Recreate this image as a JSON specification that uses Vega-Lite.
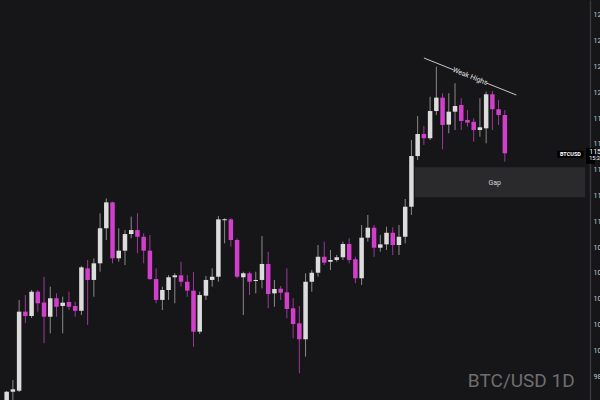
{
  "$schema": "https://vega.github.io/schema/vega-lite/v6.json",
  "width": 600,
  "height": 400,
  "padding": 0,
  "autosize": {"type": "none"},
  "background": "#161618",
  "config": {
    "view": {"stroke": null},
    "font": "Roboto",
    "axisY": {"labelOverlap": false, "labelSeparation": 0, "labelBound": false, "labelFlush": false}
  },
  "datasets": {
    "candles": [
      {"d":1,"o":95830,"h":96840,"l":95360,"c":96780},
      {"d":2,"o":96780,"h":97690,"l":96100,"c":96970},
      {"d":3,"o":96860,"h":103890,"l":96760,"c":102990},
      {"d":4,"o":102990,"h":104280,"l":102110,"c":102650},
      {"d":5,"o":102650,"h":104670,"l":102500,"c":104540},
      {"d":6,"o":104540,"h":104670,"l":102990,"c":103640},
      {"d":7,"o":103700,"h":105700,"l":100540,"c":102600},
      {"d":8,"o":102600,"h":104930,"l":101310,"c":104030},
      {"d":9,"o":104030,"h":104410,"l":102600,"c":103370},
      {"d":10,"o":103430,"h":104150,"l":101310,"c":103690},
      {"d":11,"o":103740,"h":104540,"l":103120,"c":103370},
      {"d":12,"o":103430,"h":103760,"l":102600,"c":103060},
      {"d":13,"o":103060,"h":106530,"l":102730,"c":106430},
      {"d":14,"o":106350,"h":107000,"l":101960,"c":105450},
      {"d":15,"o":105450,"h":107130,"l":104150,"c":106740},
      {"d":16,"o":106740,"h":110620,"l":106090,"c":109460},
      {"d":17,"o":109460,"h":111780,"l":108550,"c":111470},
      {"d":18,"o":111470,"h":111520,"l":106740,"c":107130},
      {"d":19,"o":107130,"h":109460,"l":106870,"c":107720},
      {"d":20,"o":107720,"h":109320,"l":106610,"c":109010},
      {"d":21,"o":109010,"h":110360,"l":108680,"c":109320},
      {"d":22,"o":109320,"h":110620,"l":107520,"c":108800},
      {"d":23,"o":108800,"h":109070,"l":106740,"c":107720},
      {"d":24,"o":107720,"h":108940,"l":105450,"c":105520},
      {"d":25,"o":105520,"h":106350,"l":103640,"c":103900},
      {"d":26,"o":103900,"h":104930,"l":103120,"c":104670},
      {"d":27,"o":104670,"h":105830,"l":103900,"c":105660},
      {"d":28,"o":105660,"h":105970,"l":103640,"c":105810},
      {"d":29,"o":105810,"h":106870,"l":104930,"c":105310},
      {"d":30,"o":105310,"h":105830,"l":104150,"c":104620},
      {"d":31,"o":104620,"h":106070,"l":100270,"c":101440},
      {"d":32,"o":101440,"h":104540,"l":101260,"c":104280},
      {"d":33,"o":104230,"h":105760,"l":103900,"c":105450},
      {"d":34,"o":105450,"h":106350,"l":104930,"c":105700},
      {"d":35,"o":105700,"h":110410,"l":105310,"c":110150},
      {"d":36,"o":110080,"h":110230,"l":108290,"c":110160},
      {"d":37,"o":110150,"h":110230,"l":108030,"c":108550},
      {"d":38,"o":108550,"h":108680,"l":105580,"c":105700},
      {"d":39,"o":105660,"h":106090,"l":102730,"c":105970},
      {"d":40,"o":105970,"h":106090,"l":104280,"c":105310},
      {"d":41,"o":105370,"h":106090,"l":104410,"c":105450},
      {"d":42,"o":105450,"h":108860,"l":104800,"c":106690},
      {"d":43,"o":106690,"h":107640,"l":103250,"c":104360},
      {"d":44,"o":104410,"h":105450,"l":103370,"c":104750},
      {"d":45,"o":104770,"h":104980,"l":103900,"c":104460},
      {"d":46,"o":104490,"h":106350,"l":102480,"c":103200},
      {"d":47,"o":103250,"h":104030,"l":100920,"c":102030},
      {"d":48,"o":102090,"h":103430,"l":98210,"c":100850},
      {"d":49,"o":100850,"h":105970,"l":99500,"c":105310},
      {"d":50,"o":105310,"h":106220,"l":104540,"c":106010},
      {"d":51,"o":106010,"h":108160,"l":105700,"c":107250},
      {"d":52,"o":107250,"h":108420,"l":106610,"c":106790},
      {"d":53,"o":106860,"h":107770,"l":106220,"c":107000},
      {"d":54,"o":107000,"h":107390,"l":106870,"c":107210},
      {"d":55,"o":107210,"h":108420,"l":107000,"c":108240},
      {"d":56,"o":108240,"h":108680,"l":106740,"c":107000},
      {"d":57,"o":107050,"h":107250,"l":105190,"c":105580},
      {"d":58,"o":105580,"h":109710,"l":105060,"c":108730},
      {"d":59,"o":108730,"h":110490,"l":108420,"c":109500},
      {"d":60,"o":109500,"h":109710,"l":107250,"c":107950},
      {"d":61,"o":107950,"h":108940,"l":107640,"c":108210},
      {"d":62,"o":108210,"h":109580,"l":107770,"c":109110},
      {"d":63,"o":109110,"h":109530,"l":107390,"c":108160},
      {"d":64,"o":108160,"h":109710,"l":107390,"c":108800},
      {"d":65,"o":108800,"h":111730,"l":108290,"c":111130},
      {"d":66,"o":111130,"h":116300,"l":110490,"c":115060},
      {"d":67,"o":115060,"h":118170,"l":114750,"c":116770},
      {"d":68,"o":116770,"h":117390,"l":115920,"c":116440},
      {"d":69,"o":116440,"h":119660,"l":116300,"c":118550},
      {"d":70,"o":118550,"h":121990,"l":118240,"c":119590},
      {"d":71,"o":119590,"h":119930,"l":115580,"c":117470},
      {"d":72,"o":117500,"h":119930,"l":116820,"c":118500},
      {"d":73,"o":118500,"h":120700,"l":117080,"c":118940},
      {"d":74,"o":119020,"h":119540,"l":117080,"c":117780},
      {"d":75,"o":117860,"h":118630,"l":117340,"c":117650},
      {"d":76,"o":117720,"h":117990,"l":116170,"c":117080},
      {"d":77,"o":117080,"h":119540,"l":116560,"c":117290},
      {"d":78,"o":117210,"h":120050,"l":116050,"c":119850},
      {"d":79,"o":119850,"h":120100,"l":117080,"c":118690},
      {"d":80,"o":118690,"h":119410,"l":117470,"c":118240},
      {"d":81,"o":118240,"h":118630,"l":114620,"c":115270}
    ],
    "gap": [{"d":66.55,"d2":93.9,"p":111860,"p2":114190}],
    "gapText": [{"d":79.37,"p":112969,"t":"Gap"}],
    "trend": [
      {"seg":"a","d":68.0,"p":122664},
      {"seg":"a","d":72.74,"p":121749},
      {"seg":"b","d":78.11,"p":120710},
      {"seg":"b","d":82.85,"p":119794}
    ],
    "trendText": [{"d":75.42,"p":121229,"t":"Weak Highs"}],
    "watermark": [{"d":83.64,"p":97147,"t":"BTC/USD 1D"}],
    "symBox": [{"d":89.43,"d2":93.63,"p":114931,"p2":115474}],
    "symText": [{"d":91.53,"p":115203,"t":"BTCUSD"}],
    "priceBox": [{"d":94.05,"d2":95.48,"p":114450,"p2":115700}],
    "priceText": [
      {"d":94.55,"p":115400,"t":"115270.00","s":7},
      {"d":94.55,"p":114870,"t":"15:24:37","s":5.5}
    ]
  },
  "encoding": {
    "x": {"type": "quantitative", "scale": {"domain": [0.7316, 95.48], "nice": false, "zero": false}, "axis": null},
    "y": {"type": "quantitative", "title": null, "scale": {"domain": [96140, 127162], "nice": false, "zero": false},
      "axis": {"orient": "right", "offset": -10, "title": null, "values": [98000,100000,102000,104000,106000,108000,110000,112000,114000,116000,118000,120000,122000,124000,126000], "format": "d", "labelFontSize": 7, "labelColor": "#c8c8c8", "labelPadding": 3, "labelOverlap": false, "labelBound": false, "ticks": false, "grid": false, "domainColor": "#38383c", "domainWidth": 1.5}}
  },
  "layer": [
    {
      "data": {"name": "gap"},
      "mark": {"type": "rect", "color": "#2a2a2d"},
      "encoding": {
        "x": {"field": "d", "type": "quantitative"},
        "x2": {"field": "d2"},
        "y": {"field": "p", "type": "quantitative"},
        "y2": {"field": "p2"}
      }
    },
    {
      "data": {"name": "gapText"},
      "mark": {"type": "text", "color": "#d4d4d4", "fontSize": 7, "align": "center", "baseline": "middle"},
      "encoding": {
        "x": {"field": "d", "type": "quantitative"},
        "y": {"field": "p", "type": "quantitative"},
        "text": {"field": "t"}
      }
    },
    {
      "data": {"name": "watermark"},
      "mark": {"type": "text", "color": "#6e6e6e", "fontSize": 19, "align": "center", "baseline": "alphabetic"},
      "encoding": {
        "x": {"field": "d", "type": "quantitative"},
        "y": {"field": "p", "type": "quantitative"},
        "text": {"field": "t"}
      }
    },
    {
      "data": {"name": "candles"},
      "mark": {"type": "rule", "strokeWidth": 1},
      "encoding": {
        "x": {"field": "d", "type": "quantitative"},
        "y": {"field": "l", "type": "quantitative"},
        "y2": {"field": "h"},
        "color": {"condition": {"test": "datum.c >= datum.o", "value": "#8a8a8a"}, "value": "#9a3a98"}
      }
    },
    {
      "data": {"name": "candles"},
      "mark": {"type": "bar", "size": 4.5},
      "encoding": {
        "x": {"field": "d", "type": "quantitative"},
        "y": {"field": "o", "type": "quantitative"},
        "y2": {"field": "c"},
        "color": {"condition": {"test": "datum.c >= datum.o", "value": "#dcdcdc"}, "value": "#d23fcc"}
      }
    },
    {
      "data": {"name": "trend"},
      "mark": {"type": "line", "color": "#c8c8c8", "strokeWidth": 1},
      "encoding": {
        "x": {"field": "d", "type": "quantitative"},
        "y": {"field": "p", "type": "quantitative"},
        "detail": {"field": "seg"}
      }
    },
    {
      "data": {"name": "trendText"},
      "mark": {"type": "text", "color": "#e0e0e0", "fontSize": 7, "angle": 21.5, "align": "center", "baseline": "middle"},
      "encoding": {
        "x": {"field": "d", "type": "quantitative"},
        "y": {"field": "p", "type": "quantitative"},
        "text": {"field": "t"}
      }
    },
    {
      "data": {"name": "symBox"},
      "mark": {"type": "rect", "color": "#000000"},
      "encoding": {
        "x": {"field": "d", "type": "quantitative"},
        "x2": {"field": "d2"},
        "y": {"field": "p", "type": "quantitative"},
        "y2": {"field": "p2"}
      }
    },
    {
      "data": {"name": "symText"},
      "mark": {"type": "text", "color": "#ffffff", "fontSize": 5.5, "fontWeight": "bold", "align": "center", "baseline": "middle"},
      "encoding": {
        "x": {"field": "d", "type": "quantitative"},
        "y": {"field": "p", "type": "quantitative"},
        "text": {"field": "t"}
      }
    },
    {
      "data": {"name": "priceBox"},
      "mark": {"type": "rect", "color": "#000000"},
      "encoding": {
        "x": {"field": "d", "type": "quantitative"},
        "x2": {"field": "d2"},
        "y": {"field": "p", "type": "quantitative"},
        "y2": {"field": "p2"}
      }
    },
    {
      "data": {"name": "priceText"},
      "mark": {"type": "text", "color": "#ffffff", "align": "left", "baseline": "middle"},
      "encoding": {
        "x": {"field": "d", "type": "quantitative"},
        "y": {"field": "p", "type": "quantitative"},
        "text": {"field": "t"},
        "size": {"field": "s", "type": "quantitative", "scale": null}
      }
    }
  ]
}
